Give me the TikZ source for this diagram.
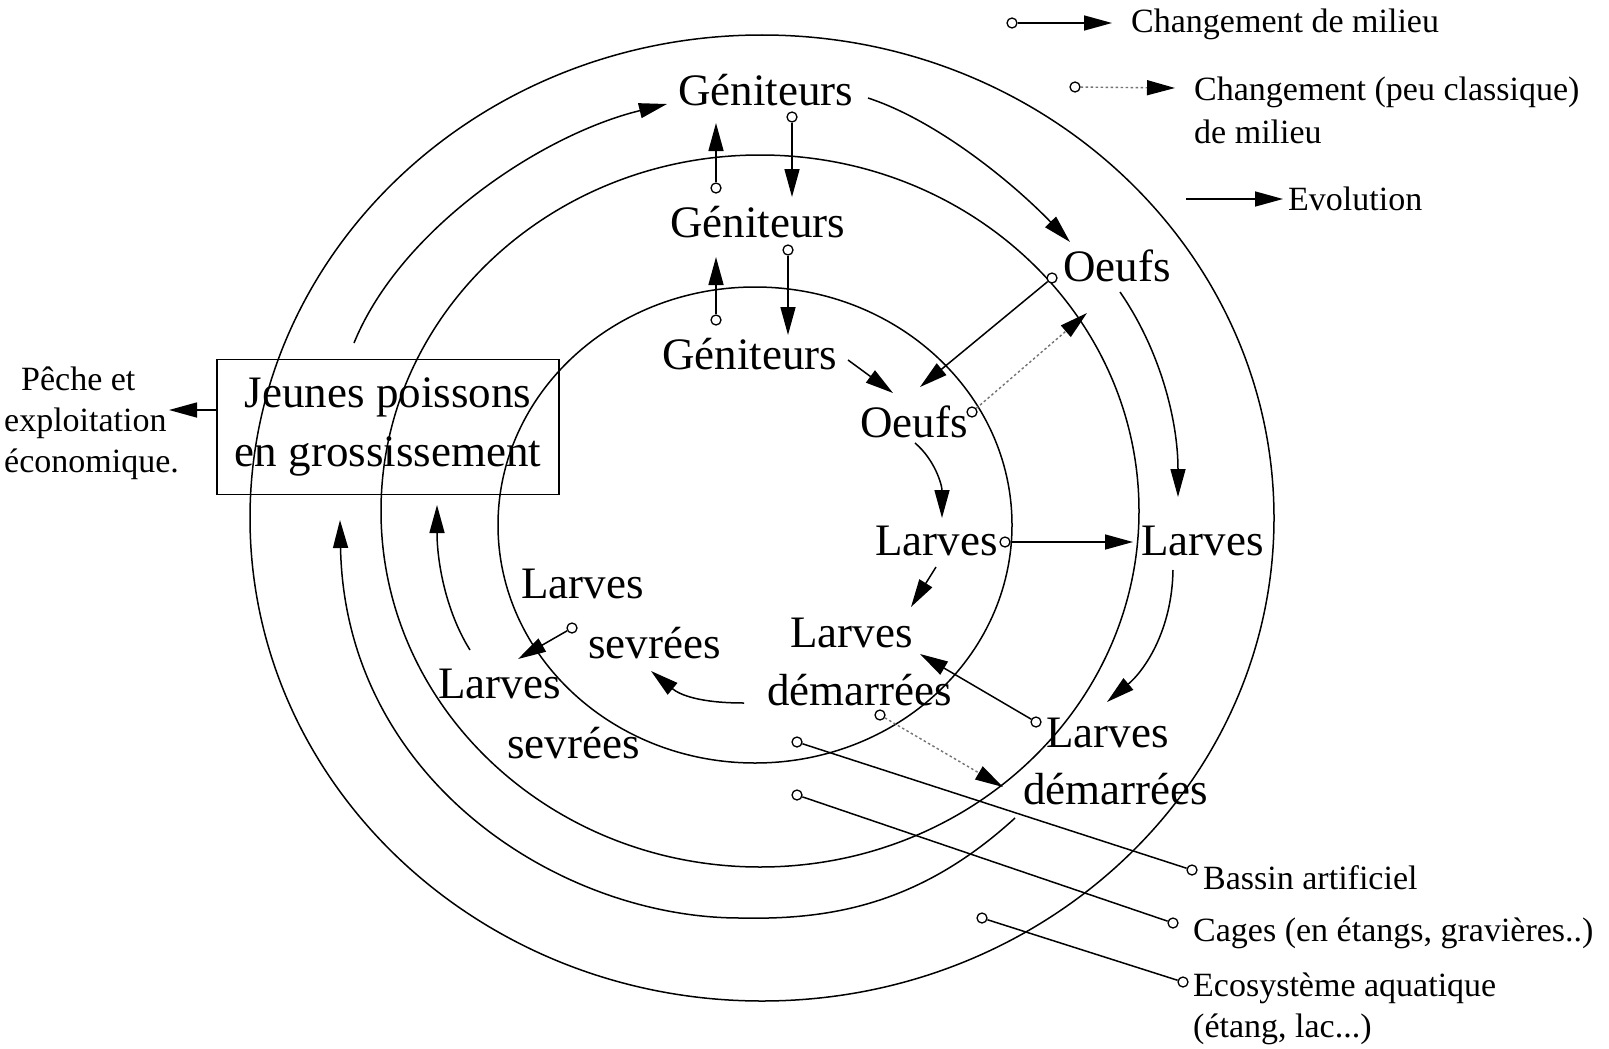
\documentclass[tikz,border=0pt]{standalone}
\usepackage{fontspec}
\setmainfont{Liberation Serif}
\usetikzlibrary{arrows.meta}
\begin{document}
\begin{tikzpicture}[x=1pt,y=-1pt,
  lw/.style={line width=1.5pt},
  evo/.style={line width=1.5pt,-{Triangle[length=28pt,width=15pt]}},
  dotarrow/.style={line width=1.4pt,draw=black!55,dash pattern=on 2.5pt off 2.5pt,-{Triangle[length=28pt,width=15pt,color=black]}},
  mk/.style={circle,draw,line width=1.3pt,inner sep=0pt,minimum size=10pt,fill=white},
  big/.style={font=\fontsize{45}{58}\selectfont,inner sep=0pt,anchor=base west},
  small/.style={font=\fontsize{34}{43}\selectfont,inner sep=0pt,anchor=base west}]
\fill[white] (0,0) rectangle (1609,1049);
\useasboundingbox (0,0) rectangle (1609,1049);

% milieux
\draw[lw] (762,518) ellipse [x radius=512pt, y radius=483pt];
\draw[lw] (760,511) ellipse [x radius=379pt, y radius=356pt];
\draw[lw] (755,525) ellipse [x radius=257pt, y radius=238pt];

% labels
\node[big] (go) at (678,106) {Géniteurs};
\node[big] (gm) at (670,237) {Géniteurs};
\node[big] (gi) at (662,369) {Géniteurs};
\node[big] (oo) at (1063,281) {Oeufs};
\node[big] (oi) at (860,437) {Oeufs};
\node[big] (li) at (875,555) {Larves};
\node[big] (lo) at (1141,555) {Larves};
\node[big] (ldi1) at (790,647) {Larves};
\node[big] (ldi2) at (767,705) {démarrées};
\node[big] (ldo1) at (1046,747) {Larves};
\node[big] (ldo2) at (1023,804) {démarrées};
\node[big] (lsi1) at (521,598) {Larves};
\node[big] (lsi2) at (588,658) {sevrées};
\node[big] (lsm1) at (438,698) {Larves};
\node[big] (lsm2) at (507,758) {sevrées};
\node[draw,line width=1.4pt,minimum width=342pt,minimum height=135pt,align=center,
      font=\fontsize{45}{59}\selectfont,inner sep=0pt] (jp) at (388,427) {Jeunes poissons\\en grossissement};
\node[font=\fontsize{34}{41}\selectfont,align=left,anchor=north west,inner sep=0pt] (pe) at (4,367) {\hspace*{17pt}Pêche et\\exploitation\\économique.};

% legend
\node[small] (lt1) at (1131,33) {Changement de milieu};
\node[font=\fontsize{34}{43}\selectfont,inner sep=0pt,anchor=north west,align=left] (lt2) at (1194,77) {Changement (peu classique)\\de milieu};
\node[small] (lt3) at (1288,210) {Evolution};
\node[small] (lb) at (1203,889) {Bassin artificiel};
\node[small] (lc) at (1193,941) {Cages (en étangs, gravières..)};
\node[font=\fontsize{34}{41}\selectfont,inner sep=0pt,anchor=north west,align=left] (le) at (1193,973) {Ecosystème aquatique\\(étang, lac...)};

\node[mk] (lg1) at (1012,23) {};
\coordinate (lg1t) at (1112,23);
\draw[evo] (lg1) -- (lg1t);
\node[mk] (lg2) at (1075,87) {};
\coordinate (lg2t) at (1175,88);
\draw[dotarrow] (lg2) -- (lg2t);
\coordinate (ev0) at (1186,199);
\coordinate (ev1) at (1283,199);
\draw[evo] (ev0) -- (ev1);

% legend pointers
\node[mk] (b1) at (797,742) {};
\node[mk] (b2) at (1192,870) {};
\node[mk] (c1) at (797,795) {};
\node[mk] (c2) at (1173,923) {};
\node[mk] (e1) at (982,918) {};
\node[mk] (e2) at (1183,982) {};
\draw[lw] (b1) -- (b2);
\draw[lw] (c1) -- (c2);
\draw[lw] (e1) -- (e2);

% changes of milieu
\node[mk] (m1) at (792,117) {}; \coordinate (t1) at (792,197);
\node[mk] (m2) at (716,188) {}; \coordinate (t2) at (716,123);
\node[mk] (m3) at (788,250) {}; \coordinate (t3) at (788,335);
\node[mk] (m4) at (716,320) {}; \coordinate (t4) at (716,257);
\node[mk] (m5) at (1052,278) {}; \coordinate (t5) at (920,387);
\node[mk] (m6) at (1005,542) {}; \coordinate (t6) at (1133,542);
\node[mk] (m7) at (1036,722) {}; \coordinate (t7) at (920,654);
\node[mk] (m8) at (572,628) {}; \coordinate (t8) at (518,659);
\draw[evo] (m1) -- (t1);
\draw[evo] (m2) -- (t2);
\draw[evo] (m3) -- (t3);
\draw[evo] (m4) -- (t4);
\draw[evo] (m5) -- (t5);
\draw[evo] (m6) -- (t6);
\draw[evo] (m7) -- (t7);
\draw[evo] (m8) -- (t8);
\node[mk] (d1) at (972,412) {}; \coordinate (u1) at (1087,313);
\node[mk] (d2) at (880,715) {}; \coordinate (u2) at (1003,787);
\draw[dotarrow] (d1) -- (u1);
\draw[dotarrow] (d2) -- (u2);

% evolutions
\coordinate (a0) at (354,343); \coordinate (a1) at (667,104);
\draw[evo] (a0) .. controls (400,230) and (540,135) .. (a1);
\coordinate (b0) at (868,98); \coordinate (bb1) at (1070,242);
\draw[evo] (b0) .. controls (935,120) and (1010,180) .. (bb1);
\coordinate (c0) at (1120,292); \coordinate (cc1) at (1178,497);
\draw[evo] (c0) .. controls (1160,350) and (1178,420) .. (cc1);
\coordinate (dd0) at (1173,570); \coordinate (dd1) at (1107,702);
\draw[evo] (dd0) .. controls (1172,630) and (1145,670) .. (dd1);
\coordinate (e0) at (1015,818); \coordinate (ee1) at (340,520);
\draw[evo] (e0) .. controls (920,905) and (830,920) .. (740,918)
                 .. controls (560,918) and (345,780) .. (ee1);
\coordinate (f0) at (470,650); \coordinate (f1) at (437,505);
\draw[evo] (f0) .. controls (445,610) and (437,560) .. (f1);
\coordinate (g0) at (744,703); \coordinate (g1) at (651,671);
\draw[evo] (g0) .. controls (700,703) and (680,695) .. (g1);
\coordinate (h0) at (915,443); \coordinate (h1) at (942,518);
\draw[evo] (h0) .. controls (935,460) and (942,485) .. (h1);
\coordinate (i0) at (848,360); \coordinate (i1) at (893,393);
\draw[evo] (i0) -- (i1);
\coordinate (j0) at (936,567); \coordinate (j1) at (911,607);
\draw[evo] (j0) -- (j1);
\coordinate (petip) at (169,410);
\draw[evo] (jp.west |- petip) -- (petip);
\end{tikzpicture}
\end{document}
